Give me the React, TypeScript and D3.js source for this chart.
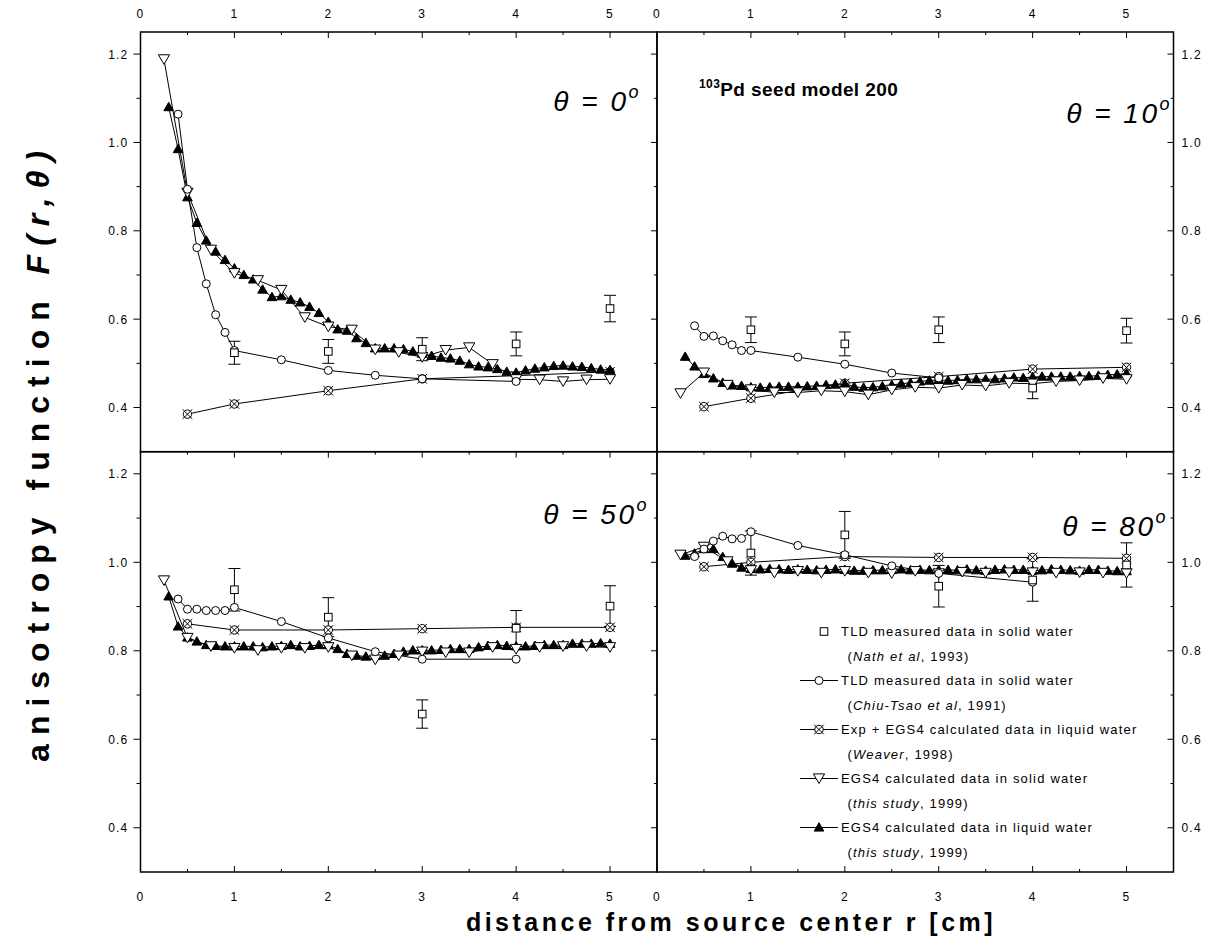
import React from "react";
import * as d3 from "d3";

const FONT = "'Liberation Sans', Arial, Helvetica, sans-serif";

// ---------- axis ticks ----------
const xMajor = [0, 1, 2, 3, 4, 5];
const xMinor = [0.5, 1.5, 2.5, 3.5, 4.5];
const xTickLabels = ["0", "1", "2", "3", "4", "5"];
const yMajor = [0.4, 0.6, 0.8, 1.0, 1.2];
const yMinor = [0.5, 0.7, 0.9, 1.1];
const yTickLabels = ["0.4", "0.6", "0.8", "1.0", "1.2"];

// ---------- radial distances (cm) ----------
const rNath = [1, 2, 3, 4, 5];
const rWeaver = [0.5, 1, 2, 3, 4, 5];
const rSolid = [0.25, 0.5, 0.75, 1.0, 1.25, 1.5, 1.75, 2.0, 2.25, 2.5, 2.75, 3.0, 3.25, 3.5, 3.75, 4.0, 4.25, 4.5, 4.75, 5.0];
const rLiquid = [0.3, 0.4, 0.5, 0.6, 0.7, 0.8, 0.9, 1.0, 1.1, 1.2, 1.3, 1.4, 1.5, 1.6, 1.7, 1.8, 1.9, 2.0, 2.1, 2.2, 2.3, 2.4, 2.5, 2.6, 2.7, 2.8, 2.9, 3.0, 3.1, 3.2, 3.3, 3.4, 3.5, 3.6, 3.7, 3.8, 3.9, 4.0, 4.1, 4.2, 4.3, 4.4, 4.5, 4.6, 4.7, 4.8, 4.9, 5.0];
const rChiuA = [0.4, 0.5, 0.6, 0.7, 0.8, 0.9, 1.0, 1.5, 2.0, 2.5, 3.0, 4.0];
const rChiuB = [0.4, 0.5, 0.6, 0.7, 0.8, 0.9, 1.0, 1.5, 2.0, 2.5, 3.0];

// ---------- theta = 0 ----------
const nath0 = [0.524, 0.527, 0.532, 0.544, 0.624];
const nathErr0 = [0.026, 0.027, 0.026, 0.027, 0.030];
const chiu0 = [1.064, 0.894, 0.762, 0.680, 0.610, 0.570, 0.529, 0.508, 0.484, 0.473, 0.465, 0.459];
const weaver0 = [0.385, 0.408, 0.438, 0.465, 0.472, 0.481];
const solid0 = [1.188, 0.886, 0.757, 0.704, 0.688, 0.666, 0.604, 0.583, 0.576, 0.531, 0.525, 0.514, 0.530, 0.536, 0.498, 0.464, 0.463, 0.459, 0.463, 0.464];
const liquid0 = [1.080, 0.985, 0.876, 0.818, 0.778, 0.753, 0.734, 0.715, 0.700, 0.690, 0.667, 0.650, 0.652, 0.644, 0.638, 0.628, 0.614, 0.594, 0.577, 0.574, 0.557, 0.546, 0.534, 0.534, 0.534, 0.532, 0.527, 0.522, 0.517, 0.513, 0.511, 0.506, 0.498, 0.493, 0.491, 0.487, 0.481, 0.479, 0.484, 0.488, 0.491, 0.494, 0.495, 0.493, 0.492, 0.489, 0.486, 0.485];

// ---------- theta = 10 ----------
const nath10 = [0.576, 0.544, 0.576, 0.444, 0.574];
const nathErr10 = [0.029, 0.027, 0.029, 0.024, 0.028];
const chiu10 = [0.585, 0.561, 0.562, 0.551, 0.542, 0.529, 0.529, 0.514, 0.498, 0.478, 0.467];
const weaver10 = [0.402, 0.421, 0.455, 0.470, 0.487, 0.491];
const solid10 = [0.432, 0.479, 0.451, 0.441, 0.434, 0.434, 0.438, 0.436, 0.429, 0.440, 0.446, 0.444, 0.451, 0.449, 0.455, 0.454, 0.459, 0.461, 0.466, 0.464];
const liquid10 = [0.515, 0.493, 0.476, 0.466, 0.456, 0.450, 0.449, 0.446, 0.445, 0.446, 0.447, 0.447, 0.447, 0.448, 0.449, 0.451, 0.452, 0.454, 0.447, 0.445, 0.446, 0.448, 0.451, 0.454, 0.456, 0.459, 0.461, 0.463, 0.461, 0.462, 0.464, 0.464, 0.464, 0.464, 0.466, 0.468, 0.467, 0.469, 0.470, 0.470, 0.470, 0.470, 0.471, 0.471, 0.472, 0.474, 0.475, 0.477];

// ---------- theta = 50 ----------
const nath50 = [0.938, 0.876, 0.657, 0.851, 0.901];
const nathErr50 = [0.048, 0.044, 0.032, 0.040, 0.046];
const chiu50 = [0.917, 0.894, 0.894, 0.891, 0.891, 0.891, 0.898, 0.866, 0.829, 0.798, 0.781, 0.781];
const weaver50 = [0.861, 0.847, 0.847, 0.850, 0.853, 0.853];
const solid50 = [0.959, 0.829, 0.810, 0.806, 0.801, 0.806, 0.806, 0.808, 0.789, 0.780, 0.789, 0.798, 0.796, 0.796, 0.808, 0.804, 0.808, 0.810, 0.810, 0.808];
const liquid50 = [0.923, 0.855, 0.830, 0.821, 0.813, 0.811, 0.810, 0.810, 0.810, 0.810, 0.808, 0.810, 0.811, 0.813, 0.810, 0.811, 0.813, 0.813, 0.804, 0.793, 0.789, 0.787, 0.789, 0.789, 0.793, 0.798, 0.801, 0.801, 0.801, 0.802, 0.804, 0.804, 0.804, 0.808, 0.811, 0.813, 0.811, 0.810, 0.810, 0.811, 0.813, 0.813, 0.813, 0.816, 0.816, 0.816, 0.817, 0.816];

// ---------- theta = 80 ----------
const nath80 = [1.021, 1.062, 0.946, 0.960, 0.994];
const nathErr80 = [0.050, 0.053, 0.047, 0.048, 0.050];
const chiu80 = [1.013, 1.030, 1.048, 1.059, 1.053, 1.054, 1.069, 1.038, 1.017, 0.992, 0.975, 0.955];
const weaver80 = [0.990, 1.000, 1.013, 1.011, 1.011, 1.009];
const solid80 = [1.017, 1.035, 1.002, 0.982, 0.976, 0.980, 0.976, 0.980, 0.976, 0.975, 0.980, 0.975, 0.978, 0.976, 0.977, 0.977, 0.976, 0.977, 0.976, 0.975];
const liquid80 = [1.015, 1.020, 1.030, 1.030, 1.012, 0.997, 0.988, 0.985, 0.984, 0.985, 0.984, 0.983, 0.984, 0.983, 0.982, 0.983, 0.984, 0.983, 0.981, 0.981, 0.982, 0.982, 0.983, 0.984, 0.982, 0.983, 0.982, 0.983, 0.983, 0.982, 0.984, 0.982, 0.981, 0.983, 0.984, 0.983, 0.983, 0.981, 0.982, 0.984, 0.983, 0.982, 0.981, 0.983, 0.983, 0.981, 0.980, 0.980];

const thetaLabels = ["0", "10", "50", "80"];

const legendLines1 = [
  "TLD measured data in solid water",
  "TLD measured data in solid water",
  "Exp + EGS4 calculated data in liquid water",
  "EGS4 calculated data in solid water",
  "EGS4 calculated data in liquid water",
];
const legendItalic = ["Nath et al", "Chiu-Tsao et al", "Weaver", "this study", "this study"];
const legendYears = ["1993", "1991", "1998", "1999", "1999"];
const legendSymbols = ["square", "circle", "xcircle", "tridown", "triup"];

// ---------- layout ----------
const X_LEFT = 140.5, X_MID = 657, X_RIGHT = 1173.5;
const Y_TOP = 32, Y_MID = 451.7, Y_BOT = 872;

type PanelDef = {
  col: number; row: number; theta: string;
  nath: number[]; nathErr: number[]; chiuR: number[]; chiu: number[];
  weaver: number[]; solid: number[]; liquid: number[];
  labelX: number; labelY: number;
};

const panels: PanelDef[] = [
  { col: 0, row: 0, theta: thetaLabels[0], nath: nath0, nathErr: nathErr0, chiuR: rChiuA, chiu: chiu0, weaver: weaver0, solid: solid0, liquid: liquid0, labelX: 641, labelY: 111 },
  { col: 1, row: 0, theta: thetaLabels[1], nath: nath10, nathErr: nathErr10, chiuR: rChiuB, chiu: chiu10, weaver: weaver10, solid: solid10, liquid: liquid10, labelX: 1172, labelY: 123 },
  { col: 0, row: 1, theta: thetaLabels[2], nath: nath50, nathErr: nathErr50, chiuR: rChiuA, chiu: chiu50, weaver: weaver50, solid: solid50, liquid: liquid50, labelX: 649, labelY: 524 },
  { col: 1, row: 1, theta: thetaLabels[3], nath: nath80, nathErr: nathErr80, chiuR: rChiuA, chiu: chiu80, weaver: weaver80, solid: solid80, liquid: liquid80, labelX: 1168, labelY: 536 },
];

function Marker({ type, x, y }: { type: string; x: number; y: number }) {
  const sw = 1;
  switch (type) {
    case "square":
      return <rect x={x - 3.8} y={y - 3.8} width={7.6} height={7.6} fill="#fff" stroke="#000" strokeWidth={sw} />;
    case "circle":
      return <circle cx={x} cy={y} r={4} fill="#fff" stroke="#000" strokeWidth={sw} />;
    case "xcircle":
      return (
        <g stroke="#000" strokeWidth={sw}>
          <circle cx={x} cy={y} r={4.2} fill="#fff" />
          <line x1={x - 4.8} y1={y - 4.8} x2={x + 4.8} y2={y + 4.8} />
          <line x1={x - 4.8} y1={y + 4.8} x2={x + 4.8} y2={y - 4.8} />
        </g>
      );
    case "tridown":
      return <path d={`M${x - 5.6},${y - 4.6}L${x + 5.6},${y - 4.6}L${x},${y + 5}Z`} fill="#fff" stroke="#000" strokeWidth={sw} />;
    case "triup":
      return <path d={`M${x},${y - 4.8}L${x + 4.8},${y + 3.6}L${x - 4.8},${y + 3.6}Z`} fill="#000" stroke="#000" strokeWidth={sw} />;
  }
  return null;
}

function Panel({ p }: { p: PanelDef }) {
  const x = d3.scaleLinear().domain([0, 5.5]).range(p.col === 0 ? [X_LEFT, X_MID] : [X_MID, X_RIGHT]);
  const y = d3.scaleLinear().domain([0.3, 1.25]).range(p.row === 0 ? [Y_MID, Y_TOP] : [Y_BOT, Y_MID]);
  const [x0, x1] = x.range();
  const [yb, yt] = y.range();
  const line = d3.line<[number, number]>().x((d) => x(d[0])).y((d) => y(d[1]));
  const pts = (rs: number[], vs: number[]) => rs.map((r, i) => [r, vs[i]] as [number, number]);

  const chiuPts = pts(p.chiuR, p.chiu);
  const weaverPts = pts(rWeaver, p.weaver);
  const solidPts = pts(rSolid, p.solid);
  const liquidPts = pts(rLiquid, p.liquid);
  const nathPts = pts(rNath, p.nath);

  const tickStyle = { stroke: "#000", strokeWidth: 1 };
  const labelStyle: React.CSSProperties = { fontFamily: FONT, fontSize: 12, letterSpacing: "1.2px" };

  return (
    <g>
      {/* x ticks */}
      {p.row === 0 && (
        <g>
          {xMajor.map((t) => <line key={"tM" + t} x1={x(t)} x2={x(t)} y1={yt} y2={yt + 6} {...tickStyle} />)}
          {xMinor.map((t) => <line key={"tm" + t} x1={x(t)} x2={x(t)} y1={yt} y2={yt + 3} {...tickStyle} />)}
          {xMajor.map((t, i) => (
            <text key={"tl" + t} x={x(t)} y={yt - 14} textAnchor="middle" style={labelStyle}>{xTickLabels[i]}</text>
          ))}
        </g>
      )}
      {p.row === 1 && (
        <g>
          {xMajor.map((t) => <line key={"uM" + t} x1={x(t)} x2={x(t)} y1={yt} y2={yt + 6} {...tickStyle} />)}
          {xMinor.map((t) => <line key={"um" + t} x1={x(t)} x2={x(t)} y1={yt} y2={yt + 3} {...tickStyle} />)}
          {xMajor.map((t) => <line key={"bM" + t} x1={x(t)} x2={x(t)} y1={yb} y2={yb - 6} {...tickStyle} />)}
          {xMinor.map((t) => <line key={"bm" + t} x1={x(t)} x2={x(t)} y1={yb} y2={yb - 3} {...tickStyle} />)}
          {xMajor.map((t, i) => (
            <text key={"bl" + t} x={x(t)} y={yb + 29} textAnchor="middle" style={labelStyle}>{xTickLabels[i]}</text>
          ))}
        </g>
      )}
      {/* y ticks */}
      {p.col === 0 && (
        <g>
          {yMajor.map((t) => <line key={"lM" + t} x1={x0 - 7} x2={x0} y1={y(t)} y2={y(t)} {...tickStyle} />)}
          {yMinor.map((t) => <line key={"lm" + t} x1={x0 - 4} x2={x0} y1={y(t)} y2={y(t)} {...tickStyle} />)}
          {yMajor.map((t, i) => (
            <text key={"ll" + t} x={x0 - 12} y={y(t) + 4.5} textAnchor="end" style={labelStyle}>{yTickLabels[i]}</text>
          ))}
          {yMajor.map((t) => <line key={"rM" + t} x1={x1 - 6} x2={x1} y1={y(t)} y2={y(t)} {...tickStyle} />)}
          {yMinor.map((t) => <line key={"rm" + t} x1={x1 - 3} x2={x1} y1={y(t)} y2={y(t)} {...tickStyle} />)}
        </g>
      )}
      {p.col === 1 && (
        <g>
          {yMajor.map((t) => <line key={"RM" + t} x1={x1 - 6} x2={x1} y1={y(t)} y2={y(t)} {...tickStyle} />)}
          {yMinor.map((t) => <line key={"Rm" + t} x1={x1 - 3} x2={x1} y1={y(t)} y2={y(t)} {...tickStyle} />)}
          {yMajor.map((t, i) => (
            <text key={"Rl" + t} x={x1 + 8} y={y(t) + 4.5} textAnchor="start" style={labelStyle}>{yTickLabels[i]}</text>
          ))}
        </g>
      )}

      {/* series lines */}
      <g fill="none" stroke="#000" strokeWidth={1}>
        <path d={line(liquidPts) || ""} />
        <path d={line(solidPts) || ""} />
        <path d={line(weaverPts) || ""} />
        <path d={line(chiuPts) || ""} />
      </g>
      {/* error bars */}
      <g stroke="#000" strokeWidth={1}>
        {nathPts.map((d, i) => {
          const cx = x(d[0]);
          const ya = y(d[1] + p.nathErr[i]);
          const yb2 = y(d[1] - p.nathErr[i]);
          return (
            <g key={"e" + i}>
              <line x1={cx} x2={cx} y1={ya} y2={yb2} />
              <line x1={cx - 6} x2={cx + 6} y1={ya} y2={ya} />
              <line x1={cx - 6} x2={cx + 6} y1={yb2} y2={yb2} />
            </g>
          );
        })}
      </g>
      {/* markers */}
      {weaverPts.map((d, i) => <Marker key={"w" + i} type="xcircle" x={x(d[0])} y={y(d[1])} />)}
      {liquidPts.map((d, i) => <Marker key={"l" + i} type="triup" x={x(d[0])} y={y(d[1])} />)}
      {solidPts.map((d, i) => <Marker key={"s" + i} type="tridown" x={x(d[0])} y={y(d[1])} />)}
      {chiuPts.map((d, i) => <Marker key={"c" + i} type="circle" x={x(d[0])} y={y(d[1])} />)}
      {nathPts.map((d, i) => <Marker key={"n" + i} type="square" x={x(d[0])} y={y(d[1])} />)}

      {/* frame */}
      <rect x={x0} y={yt} width={x1 - x0} height={yb - yt} fill="none" stroke="#000" strokeWidth={1.5} />

      {/* theta label */}
      <text x={p.labelX} y={p.labelY} textAnchor="end" style={{ fontFamily: FONT, fontSize: 28, fontStyle: "italic", letterSpacing: "2.5px" }}>
        {"θ = " + p.theta}
        <tspan dy={-13} style={{ fontSize: 18 }}>o</tspan>
      </text>
    </g>
  );
}

function Legend() {
  const symX = 819;
  const textX = 841;
  const rowY = [636, 685, 734, 783, 832];
  const st: React.CSSProperties = { fontFamily: FONT, fontSize: 13, letterSpacing: "1.2px" };
  return (
    <g>
      {legendSymbols.map((s, i) => (
        <g key={"lg" + i}>
          {s !== "square" && <line x1={800} x2={838} y1={rowY[i] - 4.5} y2={rowY[i] - 4.5} stroke="#000" strokeWidth={1} />}
          <Marker type={s} x={s === "square" ? 824 : symX} y={rowY[i] - 4.5} />
          <text x={textX} y={rowY[i]} style={st}>{legendLines1[i]}</text>
          <text x={textX + 6.5} y={rowY[i] + 24.5} style={st}>
            {"("}
            <tspan fontStyle="italic">{legendItalic[i]}</tspan>
            {", " + legendYears[i] + ")"}
          </text>
        </g>
      ))}
    </g>
  );
}

export default function App() {
  return (
    <svg width={1213} height={938} style={{ position: "absolute", left: 0, top: 0, background: "#fff" }}>
      <rect x={0} y={0} width={1213} height={938} fill="#fff" />
      {panels.map((p, i) => <Panel key={i} p={p} />)}
      <Legend />
      <text x={699} y={96} style={{ fontFamily: FONT, fontSize: 19, fontWeight: "bold", letterSpacing: "0.4px" }}>
        <tspan style={{ fontSize: 12 }} dy={-8}>103</tspan>
        <tspan dy={8}>Pd seed model 200</tspan>
      </text>
      <text x={731} y={931} textAnchor="middle" style={{ fontFamily: FONT, fontSize: 25, fontWeight: "bold", letterSpacing: "3.5px" }}>
        distance from source center r [cm]
      </text>
      <text transform="translate(49,452) rotate(-90)" textAnchor="middle" style={{ fontFamily: FONT, fontSize: 32, fontWeight: "bold", letterSpacing: "9px" }}>
        anisotropy function <tspan fontStyle="italic">F(r,θ)</tspan>
      </text>
    </svg>
  );
}
